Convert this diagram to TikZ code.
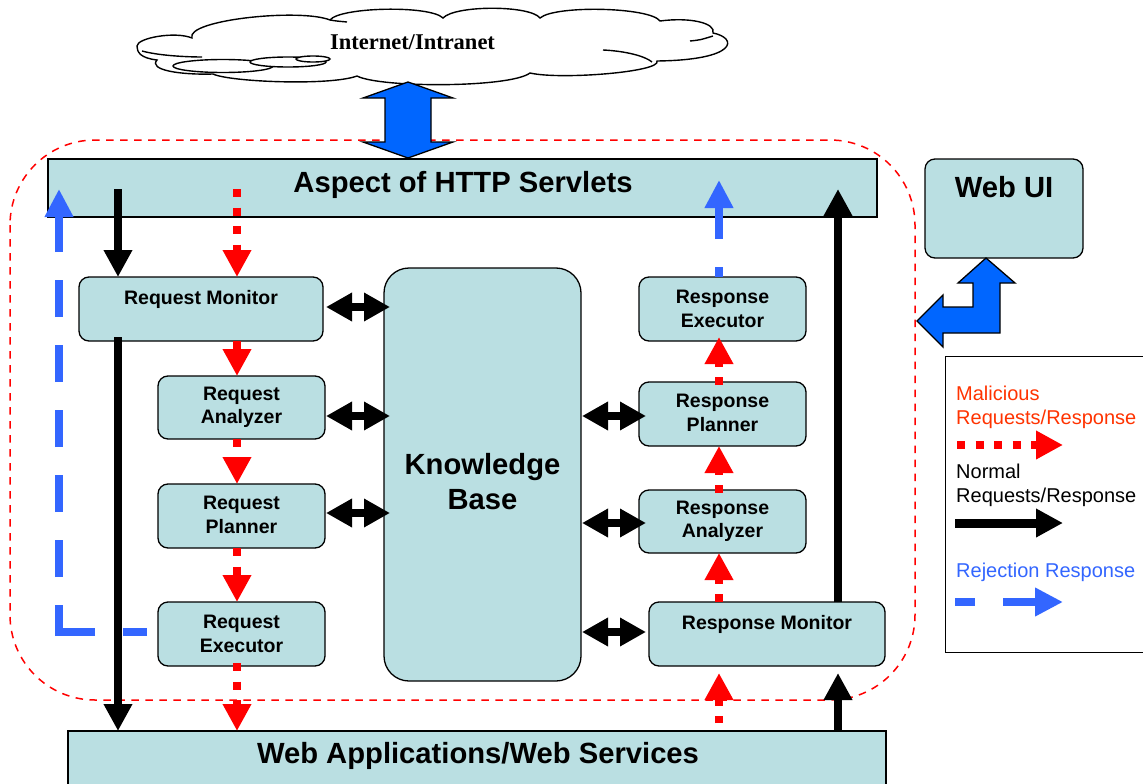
\documentclass[tikz,border=0pt]{standalone}
\usepackage{fontspec}
\setmainfont{Liberation Sans}
\newfontfamily\cloudfont{Liberation Serif}
\usetikzlibrary{arrows.meta,calc}

\definecolor{boxfill}{RGB}{186,223,226}
\definecolor{flowred}{RGB}{255,0,0}
\definecolor{legendred}{RGB}{255,51,0}
\definecolor{rejblue}{RGB}{51,102,255}
\definecolor{linkblue}{RGB}{0,102,255}

\tikzset{
  box/.style={draw=black, line width=1.3pt, fill=boxfill, rounded corners=10pt,
    inner sep=0pt, outer sep=0pt, anchor=north west},
  flatbox/.style={box, rounded corners=0pt},
  lbl/.style={font=\fontsize{19.5}{23.5}\selectfont\bfseries, align=center, inner sep=0pt},
  biglbl/.style={font=\fontsize{29.2}{35}\selectfont\bfseries, align=center, inner sep=0pt},
  legtext/.style={font=\fontsize{20}{24}\selectfont, inner sep=0pt, anchor=base west},
  normalflow/.style={draw=black, line width=8pt, -{Triangle[width=27pt,length=27pt]}},
  maliciousflow/.style={draw=flowred, line width=8pt, dash pattern=on 8pt off 10.5pt,
    -{Triangle[width=27pt,length=27pt]}},
  rejline/.style={draw=rejblue, line width=8.5pt, dash pattern=on 37pt off 28pt},
  rejectflow/.style={rejline, -{Triangle[width=27pt,length=28pt]}},
  kblink/.style={draw=black, line width=8pt,
    {Triangle[width=27pt,length=26pt]}-{Triangle[width=27pt,length=26pt]}},
  boundary/.style={draw=flowred, line width=1.5pt, dash pattern=on 7.5pt off 6.5pt,
    rounded corners=85pt},
  bigarrow/.style={draw=black, line width=1.3pt, fill=linkblue, line join=miter},
  cloudline/.style={draw=black, line width=1.4pt},
}

\begin{document}
\begin{tikzpicture}[x=1pt,y=-1pt]
\useasboundingbox (0,0) rectangle (1143,784);

% ---- Internet cloud ----
\draw[cloudline, fill=white] (137,46)
  .. controls (137,38) and (175,31) .. (192,38)
  .. controls (185,20) and (300,8) .. (330,20)
  .. controls (340,7) and (430,5) .. (443,18)
  .. controls (455,5) and (530,5) .. (540,18)
  .. controls (555,5) and (650,7) .. (660,21)
  .. controls (690,17) and (716,23) .. (713,33)
  .. controls (738,38) and (738,60) .. (657,61)
  .. controls (662,72) and (560,80) .. (530,73)
  .. controls (510,88) and (380,88) .. (357,76)
  .. controls (330,86) and (230,82) .. (213,74)
  .. controls (180,75) and (148,70) .. (157,60)
  .. controls (140,58) and (137,52) .. (137,46) -- cycle;
\draw[cloudline] (142,51) .. controls (160,56) and (190,57) .. (202,57);
\draw[cloudline] (330,20) .. controls (336,21) .. (347,22);
\draw[cloudline] (603,50) .. controls (625,51) and (645,56) .. (652,62);
\draw[cloudline] (690,41) .. controls (700,40) .. (713,36);
\draw[cloudline, fill=white] (223,66) ellipse [x radius=50pt, y radius=6.5pt];
\draw[cloudline, fill=white] (288,62) ellipse [x radius=38pt, y radius=5pt];
\draw[cloudline, fill=white] (313,59) ellipse [x radius=17pt, y radius=3pt];
\node[font={\cloudfont\fontsize{22.5}{27}\selectfont\bfseries}, inner sep=0pt, anchor=base]
  (net) at (412.5,50) {Internet/Intranet};

% ---- boxes ----
\node[flatbox, minimum width=829pt, minimum height=58pt] (servlets) at (48,159) {};
\node[biglbl, anchor=base] (servlets-t) at (463,192) {Aspect of HTTP Servlets};
\node[flatbox, minimum width=818pt, minimum height=75pt] (webapps) at (68,731) {};
\node[biglbl, anchor=base] (webapps-t) at (478,763) {Web Applications/Web Services};
\node[box, minimum width=158pt, minimum height=99pt] (webui) at (925,159) {};
\node[biglbl, anchor=base] (webui-t) at (1004,197) {Web UI};

\node[box, minimum width=244pt, minimum height=64pt] (rmon) at (79,277) {};
\node[lbl, anchor=base] (rmon-t) at (201,304) {Request Monitor};
\node[box, minimum width=167pt, minimum height=63pt] (rana) at (158,376) {};
\node[lbl] (rana-t) at (rana.center) {Request\\Analyzer};
\node[box, minimum width=167pt, minimum height=64pt] (rpla) at (158,484) {};
\node[lbl] (rpla-t) at ([yshift=1pt]rpla.center) {Request\\Planner};
\node[box, minimum width=167pt, minimum height=64pt] (rexe) at (158,602) {};
\node[lbl] (rexe-t) at (rexe.center) {Request\\Executor};

\node[box, rounded corners=25pt, minimum width=197pt, minimum height=413pt] (kb) at (384,268) {};
\node[biglbl] (kb-t) at (482.5,482) {Knowledge\\Base};

\node[box, minimum width=167pt, minimum height=64pt] (sexe) at (639,277) {};
\node[lbl] (sexe-t) at (sexe.center) {Response\\Executor};
\node[box, minimum width=167pt, minimum height=64pt] (spla) at (639,382) {};
\node[lbl] (spla-t) at ([yshift=1pt]spla.center) {Response\\Planner};
\node[box, minimum width=167pt, minimum height=63pt] (sana) at (639,490) {};
\node[lbl] (sana-t) at (sana.center) {Response\\Analyzer};
\node[box, minimum width=236pt, minimum height=64pt] (smon) at (649,602) {};
\node[lbl, anchor=base] (smon-t) at (767,629) {Response Monitor};

% ---- protected zone ----
\draw[boundary] (10,140) rectangle (915,700);

% ---- flow columns ----
\coordinate (normin) at (118,189);
\coordinate (reqcol) at (237,189);
\coordinate (rescol) at (719,180);
\coordinate (normout) at (838,189);
\coordinate (rejturn) at (59,632);
\coordinate (rejtop) at (59,189);

% normal requests / responses
\draw[normalflow] (normin) -- (normin |- rmon.north);
\draw[normalflow] ($(normin |- rmon.south)+(0,-4)$) -- (normin |- webapps.north);
\draw[normalflow] (normout |- webapps.north) -- ($(normout |- smon.south)+(0,7)$);
\draw[normalflow] (normout |- smon.north) -- (normout);

% malicious requests
\draw[maliciousflow] (reqcol) -- (reqcol |- rmon.north);
\draw[maliciousflow] (reqcol |- rmon.south) -- (reqcol |- rana.north);
\draw[maliciousflow] (reqcol |- rana.south) -- (reqcol |- rpla.north);
\draw[maliciousflow] (reqcol |- rpla.south) -- (reqcol |- rexe.north);
\draw[maliciousflow] ($(reqcol |- rexe.south)+(0,-3)$) -- (reqcol |- webapps.north);

% malicious responses
\draw[maliciousflow, dash phase=1pt] ($(rescol |- webapps.north)+(0,-8)$) -- ($(rescol |- smon.south)+(0,7)$);
\draw[maliciousflow] (rescol |- smon.north) -- (rescol |- sana.south);
\draw[maliciousflow] ($(rescol |- sana.north)+(0,3)$) -- (rescol |- spla.south);
\draw[maliciousflow] ($(rescol |- spla.north)+(0,3)$) -- ($(rescol |- sexe.south)+(0,-4)$);

% rejection responses
\draw[rejectflow, dash phase=27pt] (rescol |- sexe.north) -- (rescol);
\draw[rejline, dash phase=13pt] ($(rexe.west)+(-11,-2)$) -- ($(rejturn)+(-4.25,0)$);
\draw[rejectflow, dash phase=6pt] ($(rejturn)+(0,4)$) -- (rejtop);

% knowledge base links
\draw[kblink] ($(kb.west |- 0,307)+(-58,0)$) -- ($(kb.west |- 0,307)+(6,0)$);
\draw[kblink] ($(kb.west |- 0,416)+(-58,0)$) -- ($(kb.west |- 0,416)+(6,0)$);
\draw[kblink] ($(kb.west |- 0,513)+(-58,0)$) -- ($(kb.west |- 0,513)+(6,0)$);
\draw[kblink] ($(kb.east |- 0,416)+(1,0)$) -- ($(kb.east |- 0,416)+(65,0)$);
\draw[kblink] ($(kb.east |- 0,523)+(1,0)$) -- ($(kb.east |- 0,523)+(65,0)$);
\draw[kblink] ($(kb.east |- 0,632)+(1,0)$) -- ($(kb.east |- 0,632)+(65,0)$);

% ---- block arrows ----
\draw[bigarrow] (408,82) -- (453,98) -- (431,98) -- (431,142) -- (453,142) -- (408,158)
  -- (363,142) -- (385,142) -- (385,98) -- (363,98) -- cycle;
\draw[bigarrow] (986,258) -- (1015,283) -- (1000,283) -- (1000,333) -- (943,333) -- (943,347)
  -- (917,321) -- (943,295) -- (943,307) -- (973,307) -- (973,283) -- (958,283) -- cycle;

% ---- legend ----
\node[draw=black, line width=1.3pt, fill=white, anchor=north west, inner sep=0pt,
  minimum width=230pt, minimum height=296pt] (legend) at (945,356) {};
\node[legtext, text=legendred] (leg-mal1) at (956,400) {Malicious};
\node[legtext, text=legendred] (leg-mal2) at (956,424) {Requests/Response};
\node[legtext] (leg-nor1) at (956,478) {Normal};
\node[legtext] (leg-nor2) at (956,502) {Requests/Response};
\node[legtext, text=rejblue] (leg-rej) at (956,577) {Rejection Response};
\coordinate (legmal) at (957,445);
\coordinate (legnor) at (955,523);
\coordinate (legrej) at (955,602);
\draw[maliciousflow] (legmal) -- ++(106,0);
\draw[normalflow, line width=9pt] (legnor) -- ++(108,0);
\draw[rejectflow, dash pattern=on 20pt off 28pt on 60pt off 1pt] (legrej) -- ++(108,0);
\end{tikzpicture}
\end{document}
